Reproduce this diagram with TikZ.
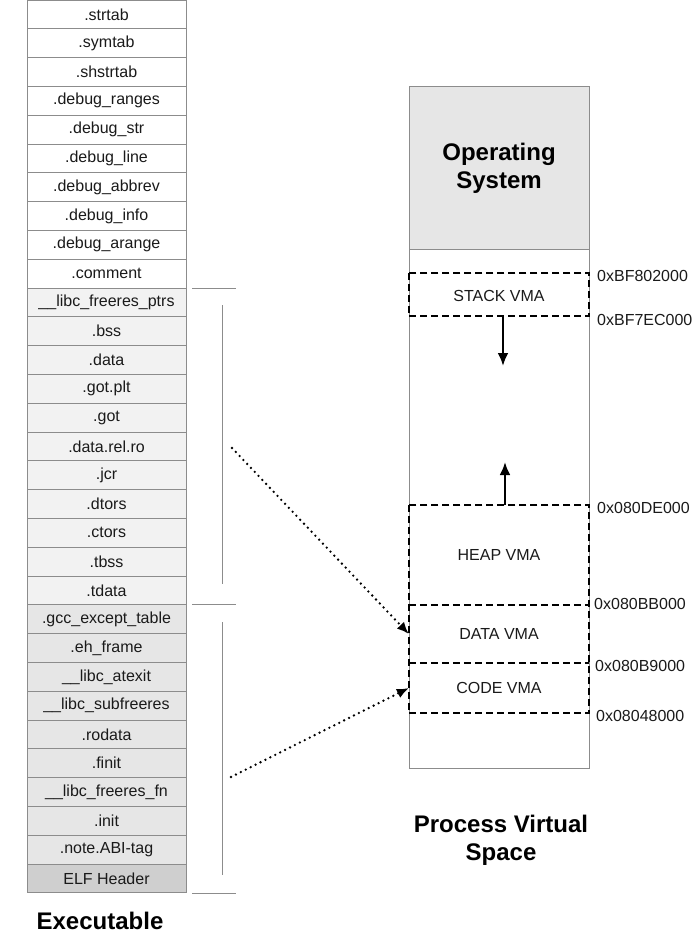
\documentclass[tikz,border=0pt]{standalone}
\usepackage{fontspec}
\setmainfont{Liberation Sans}
\usetikzlibrary{arrows.meta}
\definecolor{bordergray}{HTML}{8C8C8C}
\definecolor{secA}{HTML}{FFFFFF}
\definecolor{secB}{HTML}{F2F2F2}
\definecolor{secC}{HTML}{E6E6E6}
\definecolor{secD}{HTML}{CFCFCF}
\definecolor{osgray}{HTML}{E6E6E6}
\definecolor{txt}{HTML}{1A1A1A}
\tikzset{
  sec/.style={draw=bordergray, line width=0.9pt, minimum width=159pt, minimum height=28.8pt,
    inner sep=0pt, text=txt, font=\fontsize{16}{18}\selectfont},
  vma/.style={draw=black, line width=2.5pt, dash pattern=on 7pt off 4pt},
  addr/.style={anchor=west, inner sep=0pt, text=txt, font=\fontsize{16}{18}\selectfont},
  vlabel/.style={inner sep=0pt, text=txt, font=\fontsize{16}{18}\selectfont},
  region/.style={inner sep=0pt, minimum width=180pt},
  title/.style={align=center, inner sep=0pt, font=\fontsize{24}{28}\selectfont\bfseries},
  brk/.style={draw=bordergray, line width=0.9pt},
  dotarrow/.style={line width=2.6pt, dash pattern=on 0pt off 5.5pt, line cap=round,
    -{Latex[length=12pt,width=10pt]}},
  solidarrow/.style={line width=2.4pt, -{Latex[length=13pt,width=11pt]}}
}
\begin{document}
\begin{tikzpicture}[x=1pt,y=-1pt]
\useasboundingbox (0,0) rectangle (692,950);
% Executable sections
\foreach \lbl [count=\i] in {.strtab,.symtab,.shstrtab,.debug\_ranges,.debug\_str,.debug\_line,.debug\_abbrev,.debug\_info,.debug\_arange,.comment}{
  \node[sec, fill=secA] (s\i) at (106.5,{14.4+28.8*(\i-1)}) {\lbl};
}
\foreach \lbl [count=\j from 11] in {\_\_libc\_freeres\_ptrs,.bss,.data,.got.plt,.got,.data.rel.ro,.jcr,.dtors,.ctors,.tbss,.tdata}{
  \node[sec, fill=secB] (s\j) at (106.5,{14.4+28.8*(\j-1)}) {\lbl};
}
\foreach \lbl [count=\j from 22] in {.gcc\_except\_table,.eh\_frame,\_\_libc\_atexit,\_\_libc\_subfreeres,.rodata,.finit,\_\_libc\_freeres\_fn,.init,.note.ABI-tag}{
  \node[sec, fill=secC] (s\j) at (106.5,{14.4+28.8*(\j-1)}) {\lbl};
}
\node[sec, fill=secD] (s31) at (106.5,{14.4+28.8*30}) {ELF Header};
\node[title] (exe) at (100,921) {Executable};

% brackets
\draw[brk] (192,288) -- (236,288);
\draw[brk] (192,604) -- (236,604);
\draw[brk] (192,893) -- (236,893);
\draw[brk] (222,305) -- (222,584);
\draw[brk] (222,622) -- (222,875);
\coordinate (dA) at (232,448);
\coordinate (dB) at (231,777);

% Process virtual space
\node[draw=bordergray, line width=0.9pt, minimum width=180pt, minimum height=682pt, inner sep=0pt] (pvs) at (499,427) {};
\node[draw=bordergray, fill=osgray, line width=0.9pt, minimum width=180pt, minimum height=163pt, inner sep=0pt] (os) at (499,168) {};
\node[title] (ostxt) at (499,168) {Operating\\System};

\node[region, minimum height=43pt] (stack) at (499,294.5) {};
\draw[vma] (stack.north west) rectangle (stack.south east);
\node[vlabel] (stacktxt) at (499,296) {STACK VMA};

\node[region, minimum height=100pt] (heap) at (499,555) {};
\node[region, minimum height=58pt] (data) at (499,634) {};
\node[region, minimum height=50pt] (code) at (499,688) {};
\draw[vma] (heap.north west) rectangle (code.south east);
\draw[vma] (data.north west) -- (data.north east);
\draw[vma] (code.north west) -- (code.north east);
\node[vlabel] (heaptxt) at (499,555) {HEAP VMA};
\node[vlabel] (datatxt) at (499,634) {DATA VMA};
\node[vlabel] (codetxt) at (499,688) {CODE VMA};

\node[addr] (a1) at (597,276) {0xBF802000};
\node[addr] (a2) at (597,320) {0xBF7EC000};
\node[addr] (a3) at (597,508) {0x080DE000};
\node[addr] (a4) at (594,604) {0x080BB000};
\node[addr] (a5) at (595,666) {0x080B9000};
\node[addr] (a6) at (596,716) {0x08048000};

\coordinate (downend) at (503,366);
\coordinate (upend) at (505,462);
\draw[solidarrow] (stack.south -| downend) -- (downend);
\draw[solidarrow] (heap.north -| upend) -- (upend);

\draw[dotarrow] (dA) -- (data.west);
\draw[dotarrow] (dB) -- (code.west);

\node[title] (pvstxt) at (501,840) {Process Virtual\\Space};
\end{tikzpicture}
\end{document}
